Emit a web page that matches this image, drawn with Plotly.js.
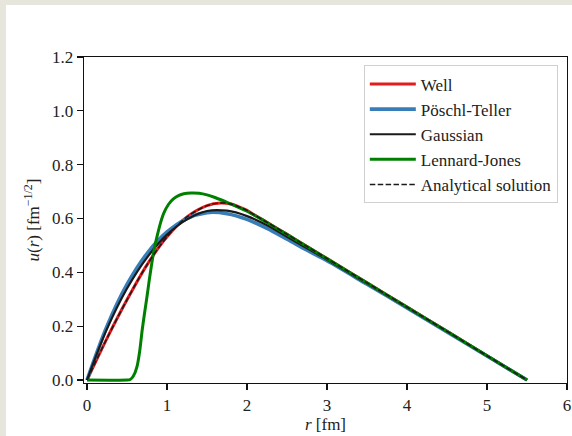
<!DOCTYPE html>
<html>
<head>
<meta charset="utf-8">
<script src="https://cdn.plot.ly/plotly-3.0.1.min.js"></script>
<style>
  html, body { margin: 0; padding: 0; background: #e6e6dd; width: 572px; height: 436px; overflow: hidden; }
  #chart { position: absolute; left: 6px; top: 5px; width: 566px; height: 431px; }
</style>
</head>
<body>
<div id="chart"></div>
<script>
// Well (square well) and analytical solution
const rWell = [0, 0.25, 0.5, 0.75, 1.0, 1.25, 1.5, 1.67, 1.8, 1.9, 2.0, 2.1, 2.25, 2.5, 2.75, 3.0, 3.5, 4.0, 4.5, 5.0, 5.5];
const uWell = [0, 0.155, 0.298, 0.428, 0.532, 0.606, 0.648, 0.658, 0.654, 0.643, 0.630, 0.612, 0.586, 0.541, 0.496, 0.451, 0.361, 0.271, 0.181, 0.090, 0];
const rAnalytical = [0, 0.25, 0.5, 0.75, 1.0, 1.25, 1.5, 1.67, 1.8, 1.9, 2.0, 2.1, 2.25, 2.5, 2.75, 3.0, 3.5, 4.0, 4.5, 5.0, 5.5];
const uAnalytical = [0, 0.155, 0.298, 0.428, 0.532, 0.606, 0.648, 0.658, 0.654, 0.643, 0.630, 0.612, 0.586, 0.541, 0.496, 0.451, 0.361, 0.271, 0.181, 0.090, 0];
// Pöschl-Teller
const rPT = [0, 0.25, 0.5, 0.75, 1.0, 1.25, 1.5, 1.75, 2.0, 2.25, 2.5, 2.75, 3.0, 3.5, 4.0, 4.5, 5.0, 5.5];
const uPT = [0, 0.20, 0.355, 0.47, 0.55, 0.60, 0.622, 0.618, 0.597, 0.563, 0.523, 0.482, 0.443, 0.356, 0.268, 0.179, 0.089, 0];
// Gaussian
const rGauss = [0, 0.25, 0.5, 0.75, 1.0, 1.25, 1.5, 1.75, 2.0, 2.25, 2.5, 2.75, 3.0, 3.5, 4.0, 4.5, 5.0, 5.5];
const uGauss = [0, 0.19, 0.34, 0.455, 0.54, 0.597, 0.628, 0.629, 0.609, 0.575, 0.532, 0.489, 0.447, 0.358, 0.269, 0.180, 0.090, 0];
// Lennard-Jones
const rLJ = [0, 0.5, 0.54, 0.58, 0.625, 0.66, 0.69, 0.72, 0.75, 0.78, 0.81, 0.84, 0.875, 0.92, 0.96, 1.02, 1.08, 1.15, 1.21, 1.3, 1.4, 1.5, 1.6, 1.75, 2.0, 2.25, 2.5, 2.75, 3.0, 3.5, 4.0, 4.5, 5.0, 5.5];
const uLJ = [0, 0, 0.002, 0.015, 0.05, 0.11, 0.186, 0.25, 0.31, 0.375, 0.434, 0.487, 0.533, 0.585, 0.62, 0.653, 0.673, 0.686, 0.692, 0.695, 0.694, 0.688, 0.678, 0.66, 0.627, 0.585, 0.541, 0.496, 0.451, 0.361, 0.271, 0.181, 0.090, 0];

const xTicks = [0, 1, 2, 3, 4, 5, 6];
const yTicks = [0.0, 0.2, 0.4, 0.6, 0.8, 1.0, 1.2];

const FONT = "'Liberation Serif', 'Times New Roman', serif";
const sm = 0.9;

const traces = [
  {x: rWell, y: uWell, name: 'Well', mode: 'lines', line: {color: '#e41a1c', width: 3, shape: 'spline', smoothing: sm}},
  {x: rPT, y: uPT, name: 'Pöschl-Teller', mode: 'lines', line: {color: '#377eb8', width: 3.6, shape: 'spline', smoothing: sm}},
  {x: rGauss, y: uGauss, name: 'Gaussian', mode: 'lines', line: {color: '#1a1a1a', width: 2.2, shape: 'spline', smoothing: sm}},
  {x: rLJ, y: uLJ, name: 'Lennard-Jones', mode: 'lines', line: {color: '#008000', width: 3, shape: 'spline', smoothing: 0.6}},
  {x: rAnalytical, y: uAnalytical, name: 'Analytical solution', mode: 'lines', line: {color: '#1a1a1a', width: 1.5, dash: '5.5px,2.4px', shape: 'spline', smoothing: sm}}
];

const layout = {
  width: 566, height: 431,
  margin: {l: 78, r: 5, t: 52, b: 53},
  paper_bgcolor: '#ffffff',
  plot_bgcolor: '#ffffff',
  font: {family: FONT, size: 17, color: '#222'},
  showlegend: true,
  legend: {
    x: 0.981, y: 0.974, xanchor: 'right', yanchor: 'top',
    bgcolor: 'rgba(255,255,255,0.9)', bordercolor: '#d0d0d0', borderwidth: 1,
    font: {family: FONT, size: 17, color: '#222'},
    itemwidth: 46, tracegroupgap: 0
  },
  xaxis: {
    range: [-0.0375, 6], tickvals: xTicks, ticktext: xTicks.map(String),
    showgrid: false, zeroline: false,
    showline: true, mirror: true, linecolor: '#111', linewidth: 1.3,
    ticks: 'outside', ticklen: 6, tickwidth: 1.2, tickcolor: '#111',
    tickfont: {family: FONT, size: 17, color: '#222'},
    title: {text: '<i>r</i> [fm]', font: {family: FONT, size: 17, color: '#222'}, standoff: 2}
  },
  yaxis: {
    range: [-0.011, 1.2], tickvals: yTicks, ticktext: yTicks.map(v => v.toFixed(1)),
    showgrid: false, zeroline: false,
    showline: true, mirror: true, linecolor: '#111', linewidth: 1.3,
    ticks: 'outside', ticklen: 6, tickwidth: 1.2, tickcolor: '#111',
    tickfont: {family: FONT, size: 17, color: '#222'},
    title: {text: '<i>u</i>(<i>r</i>) [fm<sup>−1/2</sup>]', font: {family: FONT, size: 17, color: '#222'}, standoff: 8}
  }
};

Plotly.newPlot('chart', traces, layout, {displayModeBar: false, staticPlot: true});
</script>
</body>
</html>
